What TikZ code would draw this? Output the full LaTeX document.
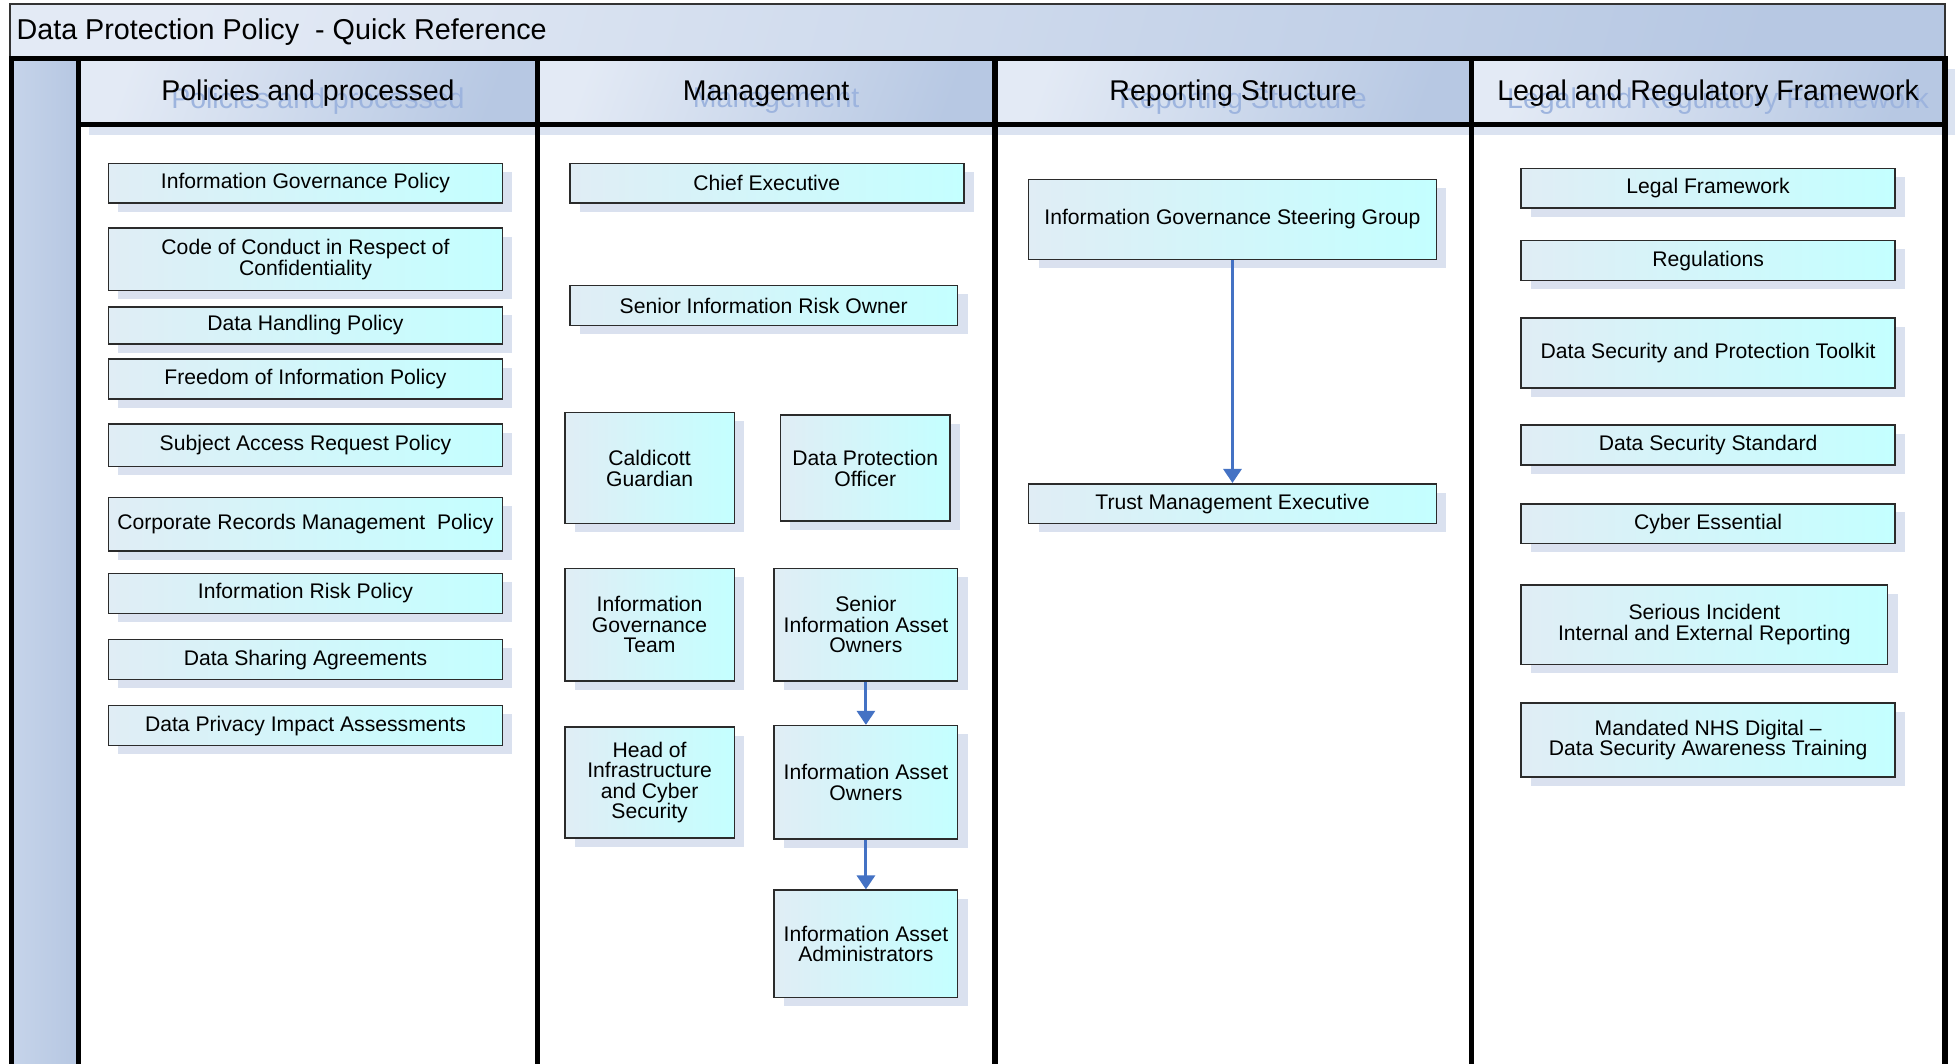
\documentclass[tikz,border=0pt]{standalone}
\usepackage{fontspec}
\setmainfont{Liberation Sans}
\usetikzlibrary{arrows.meta,shadows,calc}
\definecolor{barL}{HTML}{E3EAF5}
\definecolor{barR}{HTML}{B7C8E3}
\definecolor{stripL}{HTML}{C6D4EA}
\definecolor{stripR}{HTML}{B6C7E2}
\definecolor{boxL}{HTML}{E0EDF5}
\definecolor{boxR}{HTML}{C4FFFF}
\definecolor{boxline}{HTML}{2B2B2B}
\definecolor{shad}{HTML}{DAE1EF}
\definecolor{hshad}{HTML}{D3DDEE}
\definecolor{arrc}{HTML}{4472C4}
\definecolor{ghostc}{HTML}{9DB4DE}
\tikzset{
  pbox/.style={draw=boxline, line width=0.8pt, left color=boxL, right color=boxR,
    font=\fontsize{10.6}{10.3}\selectfont, align=center, inner sep=0pt,
    drop shadow={shadow xshift=5pt, shadow yshift=-4.4pt, fill=shad, opacity=1}},
  hcell/.style={inner sep=0pt, left color=barL, right color=barR, shading angle=70,
    drop shadow={shadow xshift=5pt, shadow yshift=-5pt, fill=hshad, opacity=0.8}},
  htext/.style={font=\fontsize{14.3}{16}\selectfont, text=black, inner sep=0pt},
  gtext/.style={font=\fontsize{14.3}{16}\selectfont, text=ghostc, inner sep=0pt},
  frame/.style={line width=2.6pt, draw=black},
  arr/.style={draw=arrc, line width=1.5pt, -{Triangle[width=9pt,length=7pt]}},
}
\newcommand\pbox[6]{%
  \pgfmathsetmacro\bw{(#4-#2)*0.625}%
  \pgfmathsetmacro\bh{(#5-#3)*0.625}%
  \node[pbox, minimum width=\bw pt, minimum height=\bh pt] (#1)
    at ({(#2+#4)/2},{(#3+#5)/2}) {#6};}
\newcommand\hcellbox[4]{%
  \pgfmathsetmacro\bw{(#3-#2)*0.625}%
  \node[hcell, minimum width=\bw pt, minimum height=33.125pt] (#1)
    at ({(#2+#3)/2},73.5) {};
  \node[gtext] (#1-ghost) at ($(#1.center)+(8,7.5)$) {#4};
  \node[htext] (#1-text) at ($(#1.center)+(0,1.5)$) {#4};}
\begin{document}
\begin{tikzpicture}[x=0.625pt,y=-0.625pt]
\useasboundingbox (0,0) rectangle (1568,853);
\fill[white] (0,0) rectangle (1568,853);

% title bar
\node[minimum width=970pt, minimum height=27.5pt, inner sep=0pt, draw=black!80, line width=0.8pt,
  left color=barL, right color=barR, shading angle=75] (titlebar) at (784,25) {};
\node[anchor=west, font=\fontsize{14.4}{16}\selectfont, inner sep=0pt] (title)
  at (13,25.5) {Data Protection Policy~ - Quick Reference};

% left strip
\shade[left color=stripL, right color=stripR] (9,47) rectangle (63,853);

% header cells
\hcellbox{h1}{63}{431}{Policies and processed}
\hcellbox{h2}{431}{798}{Management}
\hcellbox{h3}{798}{1180}{Reporting Structure}
\hcellbox{h4}{1180}{1560}{Legal and Regulatory Framework}

% frame lines
\draw[frame] (9,856) -- (9,47) -- (1560,47) -- (1560,856);
\draw[frame] (63,47) -- (63,856);
\draw[frame] (431,47) -- (431,856);
\draw[frame] (798,47) -- (798,856);
\draw[frame] (1180,47) -- (1180,856);
\draw[frame] (63,100) -- (1560,100);

% column 1
\pbox{p1}{87}{131}{403}{163}{Information Governance Policy}
\pbox{p2}{87}{183}{403}{233}{Code of Conduct in Respect of\\Confidentiality}
\pbox{p3}{87}{246}{403}{276}{Data Handling Policy}
\pbox{p4}{87}{288}{403}{320}{Freedom of Information Policy}
\pbox{p5}{87}{340}{403}{374}{Subject Access Request Policy}
\pbox{p6}{87}{399}{403}{442}{Corporate Records Management~ Policy}
\pbox{p7}{87}{460}{403}{492}{Information Risk Policy}
\pbox{p8}{87}{513}{403}{545}{Data Sharing Agreements}
\pbox{p9}{87}{566}{403}{598}{Data Privacy Impact Assessments}

% column 2
\pbox{m1}{457}{131}{773}{163}{Chief Executive}
\pbox{m2}{457}{229}{768}{261}{Senior Information Risk Owner}
\pbox{m3}{453}{331}{589}{420}{Caldicott\\Guardian}
\pbox{m4}{626}{333}{762}{418}{Data Protection\\Officer}
\pbox{m5}{453}{456}{589}{546}{Information\\Governance\\Team}
\pbox{m6}{621}{456}{768}{546}{Senior\\Information Asset\\Owners}
\pbox{m7}{453}{583}{589}{672}{Head of\\Infrastructure\\and Cyber\\Security}
\pbox{m8}{621}{582}{768}{673}{Information Asset\\Owners}
\pbox{m9}{621}{714}{768}{800}{Information Asset\\Administrators}

% column 3
\pbox{r1}{825}{144}{1152}{208}{Information Governance Steering Group}
\pbox{r2}{825}{388}{1152}{420}{Trust Management Executive}

% column 4
\pbox{l1}{1220}{135}{1520}{167}{Legal Framework}
\pbox{l2}{1220}{193}{1520}{225}{Regulations}
\pbox{l3}{1220}{255}{1520}{311}{Data Security and Protection Toolkit}
\pbox{l4}{1220}{341}{1520}{373}{Data Security Standard}
\pbox{l5}{1220}{404}{1520}{436}{Cyber Essential}
\pbox{l6}{1220}{469}{1514}{533}{Serious Incident\\Internal and External Reporting}
\pbox{l7}{1220}{564}{1520}{623}{Mandated NHS Digital –\\Data Security Awareness Training}

% connectors
\draw[arr] (m6) -- (m8);
\draw[arr] (m8) -- (m9);
\draw[arr] (r1) -- (r2);
\end{tikzpicture}
\end{document}
